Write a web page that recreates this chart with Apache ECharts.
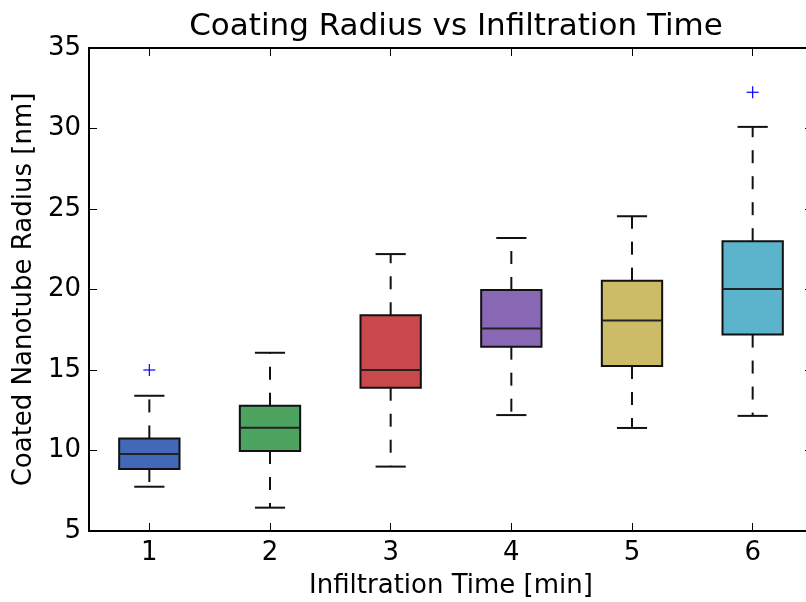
<!DOCTYPE html>
<html>
<head>
<meta charset="utf-8">
<script src="https://cdn.jsdelivr.net/npm/echarts@6/dist/echarts.min.js"></script>
<style>
  html, body { margin: 0; padding: 0; background: #fff; }
  #chart { width: 806px; height: 602px; }
</style>
</head>
<body>
<div id="chart"></div>
<script>
// box plot values
var categories = ['1', '2', '3', '4', '5', '6'];
var whiskerLow = [7.75, 6.45, 9.0, 12.2, 11.4, 12.15];
var q1 = [8.85, 9.97, 13.9, 16.45, 15.25, 17.2];
var median = [9.78, 11.42, 15.0, 17.57, 18.08, 20.03];
var q3 = [10.75, 12.78, 18.4, 19.97, 20.55, 23.0];
var whiskerHigh = [13.4, 16.07, 22.2, 23.2, 24.55, 30.1];
var outlierCat = [0, 5];
var outlierVal = [15.0, 32.25];
var boxColors = ['#4468b8', '#4ca460', '#c8484c', '#8868b4', '#ccbc68', '#5cb4cc'];

var font = 'DejaVu Sans';

var boxData = categories.map(function (c, i) {
    return [i, whiskerLow[i], q1[i], median[i], q3[i], whiskerHigh[i]];
});
var outlierData = outlierCat.map(function (c, i) {
    return [c, outlierVal[i]];
});

function renderBox(params, api) {
    var i = api.value(0);
    var x = api.coord([i, 0])[0];
    var band = api.size([1, 0])[0];
    var half = band * 0.25;
    var cap = band * 0.125;
    var yLow = api.coord([i, api.value(1)])[1];
    var yQ1 = api.coord([i, api.value(2)])[1];
    var yMed = api.coord([i, api.value(3)])[1];
    var yQ3 = api.coord([i, api.value(4)])[1];
    var yHigh = api.coord([i, api.value(5)])[1];
    var dash = { stroke: '#111', lineWidth: 2, lineDash: [13, 13] };
    var solid = { stroke: '#111', lineWidth: 2 };
    return {
        type: 'group',
        children: [
            { type: 'line', shape: { x1: x, y1: yQ3, x2: x, y2: yHigh }, style: dash },
            { type: 'line', shape: { x1: x, y1: yQ1, x2: x, y2: yLow }, style: dash },
            { type: 'line', shape: { x1: x - cap, y1: yHigh, x2: x + cap, y2: yHigh }, style: solid },
            { type: 'line', shape: { x1: x - cap, y1: yLow, x2: x + cap, y2: yLow }, style: solid },
            {
                type: 'rect',
                shape: { x: x - half, y: yQ3, width: half * 2, height: yQ1 - yQ3 },
                style: { fill: boxColors[i], stroke: '#111', lineWidth: 2 }
            },
            { type: 'line', shape: { x1: x - half, y1: yMed, x2: x + half, y2: yMed }, style: { stroke: '#222', lineWidth: 2 } }
        ]
    };
}

function renderFlier(params, api) {
    var p = api.coord([api.value(0), api.value(1)]);
    var s = 6;
    var st = { stroke: '#0000ff', lineWidth: 1.2 };
    return {
        type: 'group',
        children: [
            { type: 'line', shape: { x1: p[0] - s, y1: p[1], x2: p[0] + s, y2: p[1] }, style: st },
            { type: 'line', shape: { x1: p[0], y1: p[1] - s, x2: p[0], y2: p[1] + s }, style: st }
        ]
    };
}

var chart = echarts.init(document.getElementById('chart'));

var axisLine = { show: true, lineStyle: { color: '#000', width: 2 } };
var tick = { show: true, inside: true, length: 8, lineStyle: { color: '#000', width: 1 } };

var option = {
    backgroundColor: '#fff',
    animation: false,
    title: {
        text: 'Coating Radius vs Infiltration Time',
        left: 451,
        textAlign: 'center',
        top: 6,
        textStyle: { fontFamily: font, fontSize: 31, fontWeight: 'normal', color: '#000' }
    },
    grid: { left: 89, top: 48, width: 724, height: 483, outerBoundsMode: 'none', containLabel: false },
    xAxis: [
        {
            type: 'category',
            data: categories,
            position: 'bottom',
            boundaryGap: true,
            name: 'Infiltration Time [min]',
            nameLocation: 'middle',
            nameGap: 42,
            nameTextStyle: { fontFamily: font, fontSize: 26, color: '#000' },
            axisLine: axisLine,
            axisTick: Object.assign({ alignWithLabel: true }, tick),
            axisLabel: { fontFamily: font, fontSize: 26, color: '#000', margin: 9 },
            splitLine: { show: false }
        },
        {
            type: 'category',
            data: categories,
            position: 'top',
            boundaryGap: true,
            axisLine: axisLine,
            axisTick: Object.assign({ alignWithLabel: true }, tick),
            axisLabel: { show: false },
            splitLine: { show: false }
        }
    ],
    yAxis: [
        {
            type: 'value',
            min: 5,
            max: 35,
            interval: 5,
            position: 'left',
            name: 'Coated Nanotube Radius [nm]',
            nameLocation: 'middle',
            nameGap: 50,
            nameTextStyle: { fontFamily: font, fontSize: 26, color: '#000' },
            axisLine: axisLine,
            axisTick: tick,
            axisLabel: { fontFamily: font, fontSize: 26, color: '#000', margin: 8 },
            splitLine: { show: false }
        },
        {
            type: 'value',
            min: 5,
            max: 35,
            interval: 5,
            position: 'right',
            axisLine: axisLine,
            axisTick: tick,
            axisLabel: { show: false },
            splitLine: { show: false }
        }
    ],
    series: [
        {
            type: 'custom',
            name: 'boxes',
            renderItem: renderBox,
            encode: { x: 0, y: [1, 2, 3, 4, 5] },
            data: boxData,
            z: 3
        },
        {
            type: 'custom',
            name: 'fliers',
            renderItem: renderFlier,
            encode: { x: 0, y: 1 },
            data: outlierData,
            z: 4
        }
    ]
};

chart.setOption(option);
</script>
</body>
</html>
